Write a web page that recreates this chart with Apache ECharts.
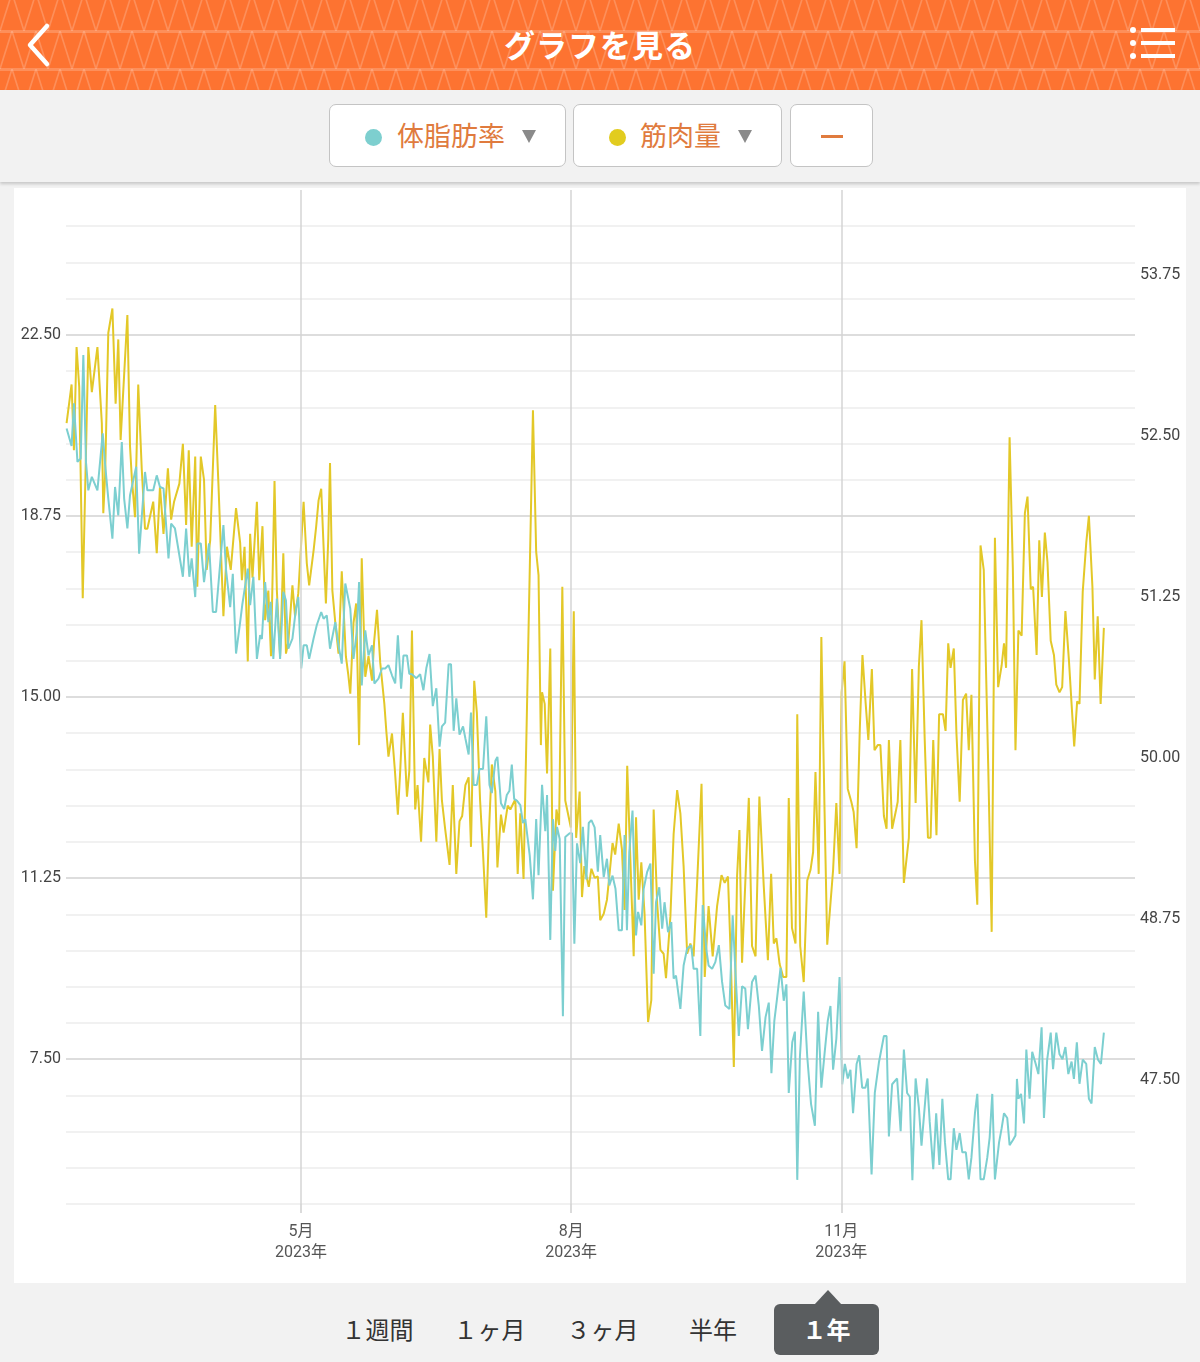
<!DOCTYPE html>
<html><head><meta charset="utf-8">
<script src="https://cdn.jsdelivr.net/npm/echarts@6.0.0/dist/echarts.min.js"></script>
<style>
html,body{margin:0;padding:0;width:1200px;height:1362px;background:#f2f2f2;overflow:hidden;font-family:"Noto Sans CJK JP","Noto Sans",sans-serif;}
#header{position:absolute;left:0;top:0;width:1200px;height:90px;background-color:#fd7331;
background-image:url("data:image/svg+xml;utf8,<svg xmlns='http://www.w3.org/2000/svg' width='24' height='38'><path d='M0 38 L12 0 L24 38' stroke='rgba(255,255,255,0.2)' stroke-width='1.6' fill='none'/></svg>");
background-position:0 -7px;}
.hline{position:absolute;left:0;width:1200px;height:3px;background:rgba(255,255,255,0.2);}
#title{position:absolute;left:0;top:0;width:1200px;height:90px;line-height:88px;text-align:center;color:#fff;font-size:31px;font-weight:bold;letter-spacing:1px;}
#bar{position:absolute;left:0;top:90px;width:1200px;height:92px;background:#f2f2f2;box-shadow:0 2px 3px rgba(0,0,0,0.18);}
.btn{position:absolute;top:14px;height:63px;background:#fff;border:1.5px solid #c4c4c4;border-radius:7px;box-sizing:border-box;}
.dot{position:absolute;top:24px;width:17px;height:17px;border-radius:50%;}
.lbl{position:absolute;top:0;height:60px;line-height:60px;font-size:27px;color:#e07b3e;}
.tri{position:absolute;top:25px;width:0;height:0;border-left:7px solid transparent;border-right:7px solid transparent;border-top:13px solid #8a8a8a;}
#card{position:absolute;left:14px;top:188px;width:1172px;height:1095px;background:#fff;}
#chart{position:absolute;left:14px;top:188px;width:1172px;height:1095px;}
.tab{position:absolute;top:1306px;height:48px;line-height:46px;font-size:24px;color:#333;text-align:center;}
#sel{position:absolute;left:774px;top:1304px;width:105px;height:51px;background:#5a5d5f;border-radius:6px;color:#fff;font-weight:bold;font-size:24px;line-height:50px;text-align:center;}
#selTri{position:absolute;left:814px;top:1290px;width:0;height:0;border-left:14px solid transparent;border-right:14px solid transparent;border-bottom:15px solid #5a5d5f;}
</style></head>
<body>
<div id="header">
  <div class="hline" style="top:30px"></div>
  <div class="hline" style="top:68px"></div>
  <svg style="position:absolute;left:20px;top:20px" width="40" height="50"><polyline points="27,6 10,25 27,44" stroke="#fff" stroke-width="4.5" fill="none" stroke-linecap="round" stroke-linejoin="round"/></svg>
  <div id="title">グラフを見る</div>
  <svg style="position:absolute;left:1128px;top:26px" width="50" height="38">
    <circle cx="5" cy="4" r="3" fill="#fff"/><circle cx="5" cy="17" r="3" fill="#fff"/><circle cx="5" cy="30" r="3" fill="#fff"/>
    <rect x="13" y="2" width="34" height="4" fill="#fff"/><rect x="13" y="15" width="34" height="4" fill="#fff"/><rect x="13" y="28" width="34" height="4" fill="#fff"/>
  </svg>
</div>
<div id="bar">
  <div class="btn" style="left:329px;width:237px;">
    <div class="dot" style="left:35px;background:#7dcfcf"></div>
    <div class="lbl" style="left:67px">体脂肪率</div>
    <div class="tri" style="left:192px"></div>
  </div>
  <div class="btn" style="left:573px;width:209px;">
    <div class="dot" style="left:35px;background:#e2cc1f"></div>
    <div class="lbl" style="left:66px">筋肉量</div>
    <div class="tri" style="left:164px"></div>
  </div>
  <div class="btn" style="left:790px;width:83px;">
    <div style="position:absolute;left:30px;top:30px;width:22px;height:2.5px;background:#e07b3e"></div>
  </div>
</div>
<div id="card"></div>
<div id="chart"></div>
<div class="tab" style="left:340px;width:75px">１週間</div>
<div class="tab" style="left:452px;width:75px">１ヶ月</div>
<div class="tab" style="left:565px;width:75px">３ヶ月</div>
<div class="tab" style="left:680px;width:66px">半年</div>
<div id="selTri"></div>
<div id="sel">１年</div>
<script>
// day 0 = 2023-02-10
const startDate = [2023, 1, 10];
const axisDays = 364;
const monthTicks = [[2023, 4, 1], [2023, 7, 1], [2023, 10, 1]];
const fatTickLabels = [7.5, 11.25, 15, 18.75, 22.5];
const muscleTickLabels = [47.5, 48.75, 50, 51.25, 52.5, 53.75];

const fatDays = [0.2,0.8,1.9,2.7,3.9,5.0,5.9,6.8,7.6,8.8,10.7,12.5,13.3,14.4,15.8,16.7,17.8,19.0,19.8,20.9,21.8,23.9,24.9,26.9,27.7,29.7,30.9,32.0,33.2,34.9,35.8,37.1,39.8,40.9,42.0,42.8,44.0,44.7,45.9,47.0,48.7,50.0,51.1,53.6,54.5,55.9,56.8,57.9,59.3,
60.0,61.9,62.7,63.8,65.0,66.1,66.7,67.8,68.9,69.7,70.6,71.8,72.9,74.0,74.9,75.7,77.1,78.3,79.1,80.1,80.9,82.0,82.8,84.3,85.4,86.9,87.7,88.8,89.9,91.7,92.8,93.9,95.1,96.8,97.9,99.0,99.8,100.7,101.9,103.0,104.2,105.0,106.4,107.6,108.7,109.8,111.0,112.1,113.0,114.1,114.9,116.1,116.9,
117.8,119.3,120.6,121.7,122.7,123.8,124.9,126.1,127.2,128.0,129.1,130.3,131.1,132.0,132.9,134.0,135.2,136.0,137.1,137.9,138.8,139.9,140.8,142.0,143.1,144.2,145.0,146.2,146.9,148.1,149.2,150.1,151.0,151.8,152.6,153.6,154.7,155.6,156.4,157.9,159.0,160.1,160.9,162.1,163.2,163.8,164.9,165.8,166.6,167.2,168.1,169.2,170.0,171.5,172.3,173.1,174.0,175.1,176.0,177.2,178.0,
178.9,180.0,181.1,181.9,183.1,184.2,185.0,186.1,187.1,188.2,189.3,190.2,191.0,191.8,192.9,194.1,194.8,195.9,196.7,197.9,199.0,200.1,200.9,202.0,203.0,203.8,205.0,206.1,206.9,207.7,209.2,210.3,211.5,212.9,213.7,214.9,216.0,216.8,218.0,218.8,220.0,221.1,222.3,223.4,224.5,225.9,227.0,227.9,229.1,230.2,231.3,232.2,233.6,234.8,235.9,237.0,
238.2,239.3,240.2,241.2,242.1,243.3,244.4,245.3,246.1,247.3,248.2,249.0,249.9,251.2,252.4,253.7,255.0,256.1,257.2,258.3,259.4,260.3,261.2,262.3,263.4,264.3,265.2,266.2,267.1,268.0,269.2,270.1,271.1,272.2,273.0,274.3,275.4,276.8,278.5,279.4,280.2,281.3,283.0,284.2,285.3,286.4,287.3,288.2,289.3,290.4,291.3,293.2,294.1,295.3,296.3,
297.4,298.4,299.3,300.4,301.2,302.3,303.2,304.3,305.2,306.4,307.4,308.3,309.5,310.3,311.4,312.5,313.7,314.5,315.4,316.3,317.7,318.6,319.4,320.5,321.3,322.4,323.3,323.8,324.3,325.2,326.2,327.0,328.1,329.0,330.2,331.1,332.2,333.0,334.1,335.3,336.1,337.2,338.3,339.3,340.3,341.3,342.4,343.2,344.2,345.1,346.2,347.4,348.3,349.2,350.3,351.4,352.4,353.4];
const fatValues = [20.56,20.6,20.2,21.08,19.87,19.94,22.08,19.87,19.28,19.56,19.28,20.46,19.83,19.11,18.28,19.35,18.76,20.28,19.11,18.49,19.18,19.77,17.97,19.66,19.28,19.28,19.59,19.35,19.32,17.87,18.59,18.49,17.49,18.49,17.49,17.87,17.07,18.18,18.18,17.38,18.18,16.76,16.76,18.56,17.63,16.86,17.55,15.9,16.55,
16.9,17.66,16.9,17.49,15.79,16.28,16.2,17.38,16.55,16.97,15.79,17.04,15.79,17.18,17.0,16.0,16.21,16.83,17.07,15.59,16.07,16.07,15.79,16.21,16.49,16.76,16.62,16.69,16.0,16.55,16.07,15.69,17.35,16.83,15.79,16.35,17.38,15.24,16.38,15.86,16.07,15.28,15.38,15.59,15.59,15.66,15.45,15.28,16.28,15.17,15.86,15.86,15.48,
15.47,15.39,15.47,15.14,15.60,15.89,14.81,15.18,13.97,14.39,14.47,15.68,15.68,14.30,14.97,14.22,14.39,14.14,13.81,14.68,13.18,13.18,13.51,13.51,14.6,13.18,13.01,13.68,13.76,12.80,12.68,12.97,13.06,13.60,12.89,12.85,12.76,12.39,12.47,11.72,10.81,12.47,11.31,13.18,12.22,12.97,9.97,12.47,11.81,12.31,12.06,8.39,12.1,12.18,12.18,9.89,11.97,11.56,12.31,11.22,12.39,
12.45,12.3,11.38,12.14,11.27,11.65,11.1,11.3,11.03,10.17,10.17,12.14,10.17,11.79,12.65,10.06,10.55,10.27,11.03,11.38,11.55,9.27,10.75,11.06,10.20,10.75,10.13,10.34,9.17,9.23,8.54,9.44,9.79,9.86,9.37,9.37,7.98,10.69,9.79,9.44,9.37,9.51,9.86,9.10,8.61,8.54,10.48,9.37,7.98,9.01,8.96,8.12,9.10,9.23,8.61,7.67,
8.37,8.67,7.21,8.30,8.75,9.39,8.71,9.05,6.80,7.85,8.07,5.0,7.55,8.90,7.55,6.57,6.12,8.48,6.91,7.62,8.30,8.60,7.28,7.92,9.20,6.98,7.40,7.10,7.28,6.38,7.40,7.58,6.91,6.91,7.10,5.11,6.80,7.43,7.98,7.98,5.90,6.98,7.10,6.01,7.70,6.80,6.72,4.99,7.10,6.50,5.71,7.10,6.2,5.22,6.38,
5.31,6.68,5.77,5.01,5.01,6.07,5.62,5.97,5.57,5.57,5.01,5.46,6.38,6.78,5.01,5.01,5.46,5.87,6.78,5.01,5.77,6.07,6.38,6.28,5.72,5.82,5.92,7.09,6.68,6.78,6.17,7.70,6.68,7.65,7.40,7.19,8.16,6.28,7.49,8.05,7.29,8.05,7.60,7.5,7.75,7.19,7.45,7.09,7.85,6.99,7.49,7.40,6.68,6.58,7.75,7.49,7.40,8.05];

const muscleDays = [0.2,1.9,2.7,3.6,4.5,5.7,7.6,8.8,10.7,12.2,12.7,13.3,14.4,15.8,16.9,17.8,18.6,20.9,21.8,22.4,23.5,24.6,25.8,26.9,27.7,29.7,30.9,32.0,33.2,34.7,35.8,36.8,38.6,39.8,40.9,41.8,42.8,44.0,44.7,45.9,47.0,47.9,49.1,50.8,51.9,53.6,54.8,56.1,57.9,59.3,
59.9,60.8,61.9,62.7,63.5,65.0,65.8,66.9,67.8,68.9,69.8,71.0,71.8,72.9,74.0,74.9,75.7,77.1,78.0,79.1,80.9,82.0,82.8,84.3,85.2,86.0,86.9,88.5,89.3,89.9,90.7,91.7,92.8,93.9,95.3,96.1,96.8,97.9,98.8,99.8,100.7,101.9,103.0,104.2,104.9,105.9,107.0,108.4,109.1,109.8,111.0,112.0,113.0,113.8,114.7,116.1,116.9,
117.8,118.9,119.7,120.9,122.0,123.4,124.0,124.9,126.1,127.2,128.0,129.1,130.6,131.7,132.9,134.0,134.9,136.0,137.1,137.9,139.0,139.9,141.0,142.0,143.1,143.9,145.0,146.2,146.9,148.1,149.0,150.4,151.3,153.0,153.8,154.7,155.8,159.0,160.1,160.9,161.7,162.1,163.0,163.8,164.9,165.8,167.0,167.9,169.0,170.0,171.9,172.9,173.7,174.9,175.7,176.5,178.0,
178.9,180.0,181.1,181.9,183.1,184.2,185.0,186.1,187.0,188.2,189.3,190.2,191.1,192.2,193.3,194.1,195.0,195.9,197.0,198.2,199.3,200.1,201.3,202.4,203.5,204.3,205.8,206.9,208.1,209.2,210.3,211.5,212.6,213.7,214.9,216.4,217.5,218.8,220.2,221.7,223.2,224.3,225.4,226.2,227.4,228.5,229.3,230.2,231.3,232.5,233.6,234.8,236.1,237.6,
239.0,240.1,241.0,241.9,243.0,244.2,245.3,246.1,247.2,248.4,249.0,250.0,251.2,252.4,253.5,254.4,255.2,256.3,257.2,258.3,259.2,260.3,261.2,262.3,263.4,264.1,265.1,266.2,267.4,268.2,269.2,270.3,271.2,272.3,273.2,274.4,275.3,276.4,277.3,278.5,279.4,280.2,281.3,282.5,283.2,284.1,285.3,287.0,288.1,289.3,290.4,291.3,292.4,293.5,294.4,295.3,296.4,297.3,
298.6,299.5,300.4,301.2,302.3,303.2,304.3,305.4,306.5,307.4,308.3,309.5,310.3,311.4,312.5,314.0,315.2,316.3,317.4,318.6,319.4,320.1,321.3,322.4,323.3,324.3,325.4,326.5,327.4,328.5,329.3,330.5,331.4,332.3,333.3,334.2,335.3,336.4,337.2,338.3,339.2,340.3,341.5,342.4,343.3,344.3,345.1,346.2,347.4,348.3,349.5,350.3,351.3,352.3,353.4];
const muscleValues = [52.60,52.90,52.39,53.19,52.88,51.24,53.19,52.84,53.19,52.60,51.90,52.18,53.30,53.49,52.75,53.25,52.47,53.44,52.42,52.18,51.87,52.90,52.24,51.78,51.78,51.99,51.59,52.11,51.74,52.25,51.85,51.99,52.13,52.44,51.81,52.39,51.64,52.34,51.33,52.34,52.16,51.46,51.69,52.74,52.13,51.10,51.64,51.46,51.94,51.67,
51.38,51.64,50.75,51.74,51.4,51.99,51.38,51.80,51.07,51.3,50.79,52.15,51.30,50.79,51.59,50.81,50.9,51.34,51.1,51.28,51.99,51.51,51.34,51.61,51.8,52.0,52.09,51.20,51.7,52.29,51.30,51.05,50.81,51.45,50.79,50.65,50.50,51.05,51.2,50.10,51.55,50.63,50.79,50.6,50.9,51.15,50.74,50.42,50.2,50.01,50.19,49.9,49.56,49.9,50.35,49.70,49.9,
50.99,49.60,49.79,49.35,50.0,49.81,50.26,50.01,49.35,50.07,49.67,49.45,49.17,49.79,49.10,49.51,49.55,49.79,49.85,49.31,50.60,50.35,49.67,49.26,48.76,49.36,49.95,49.74,49.15,49.56,49.42,49.63,49.6,49.68,49.10,49.57,49.06,52.70,51.60,51.42,50.10,50.51,50.42,49.88,50.85,48.97,49.60,49.48,51.33,49.67,49.46,51.14,49.38,49.74,48.92,49.16,49.0,
49.14,49.07,49.08,48.74,48.79,48.90,49.08,49.34,49.25,49.49,49.29,48.82,49.94,49.19,48.46,49.54,48.90,49.19,48.79,47.95,48.12,49.60,48.87,48.51,48.48,48.29,48.77,49.41,49.75,49.57,49.16,48.48,48.56,48.46,49.03,49.80,48.30,48.85,48.46,48.85,49.09,49.03,49.08,48.56,47.60,49.08,49.44,48.41,49.03,49.69,48.54,48.46,49.70,49.0,
48.43,49.10,48.56,48.6,48.40,48.30,48.30,49.69,48.68,48.56,50.34,48.54,48.26,49.05,49.13,49.27,49.89,49.10,50.94,49.58,48.55,48.87,49.13,49.65,49.10,50.51,50.75,49.76,49.66,49.58,49.30,50.23,50.80,50.42,50.14,50.69,50.06,50.1,50.10,49.55,49.45,50.14,49.45,49.58,49.66,50.14,49.03,49.38,50.69,49.65,50.71,51.07,50.14,49.38,49.38,50.14,49.40,50.34,
50.34,50.21,50.89,50.70,50.85,50.19,49.66,50.45,50.50,50.06,50.49,49.20,48.86,51.65,51.46,49.96,48.65,51.71,50.55,50.72,50.89,50.70,52.49,51.48,50.06,50.99,50.95,51.90,52.03,51.31,51.33,50.80,51.69,51.25,51.75,51.52,50.91,50.80,50.57,50.51,50.55,51.14,50.76,50.42,50.09,50.44,50.42,51.29,51.67,51.88,51.33,50.61,51.10,50.42,51.01];

const dayMs = 86400000;
const start = Date.UTC(startDate[0], startDate[1], startDate[2]);
const tickDays = monthTicks.map(d => Math.round((Date.UTC(d[0], d[1], d[2]) - start) / dayMs));
function dayLabel(v) {
  const dt = new Date(start + Math.round(v) * dayMs);
  return (dt.getUTCMonth() + 1) + '月\n' + dt.getUTCFullYear() + '年';
}
const fatData = fatDays.map((d, i) => [d, fatValues[i]]);
const muscleData = muscleDays.map((d, i) => [d, muscleValues[i]]);
const isMajor = v => fatTickLabels.some(t => Math.abs(t - v) < 1e-6);

const chart = echarts.init(document.getElementById('chart'), null, {renderer: 'canvas'});
const labelFont = 'Roboto, "Noto Sans CJK JP", sans-serif';
chart.setOption({
  animation: false,
  grid: {left: 52, right: 51, top: 2, bottom: 79},
  xAxis: {
    type: 'value', min: 0, max: axisDays,
    splitLine: {show: false},
    axisLine: {show: false},
    axisTick: {show: true, customValues: tickDays, length: 9, lineStyle: {color: '#d0d0d0', width: 1.5}},
    axisLabel: {customValues: tickDays, formatter: dayLabel, color: '#555', fontSize: 16, lineHeight: 21, margin: 17, fontFamily: labelFont}
  },
  yAxis: [{
    type: 'value', min: 4.5, max: 25.5, interval: 0.75, position: 'left',
    axisLine: {show: false}, axisTick: {show: false},
    splitLine: {show: true, showMaxLine: false, lineStyle: {color: ['#ececec', '#ececec', '#ececec', '#ececec', '#d2d2d2'], width: 1.5}},
    axisLabel: {formatter: v => isMajor(v) ? v.toFixed(2) : '', color: '#444', fontSize: 16, margin: 5, fontFamily: labelFont}
  }, {
    type: 'value', min: 46.537, max: 54.41, position: 'right',
    axisLine: {show: false}, axisTick: {show: false}, splitLine: {show: false},
    axisLabel: {customValues: muscleTickLabels, formatter: v => v.toFixed(2), color: '#444', fontSize: 16, margin: 5, fontFamily: labelFont}
  }],
  series: [{
    name: '筋肉量', type: 'line', yAxisIndex: 1, data: muscleData,
    showSymbol: false, symbol: 'none', lineStyle: {color: '#e3c828', width: 2}, z: 2
  }, {
    name: '体脂肪率', type: 'line', yAxisIndex: 0, data: fatData,
    showSymbol: false, symbol: 'none', lineStyle: {color: '#7ccfd0', width: 2}, z: 3,
    markLine: {
      silent: true, symbol: 'none', label: {show: false},
      lineStyle: {color: '#d4d4d4', width: 1.5, type: 'solid'},
      data: tickDays.map(d => ({xAxis: d}))
    }
  }]
});
</script>
</body></html>
